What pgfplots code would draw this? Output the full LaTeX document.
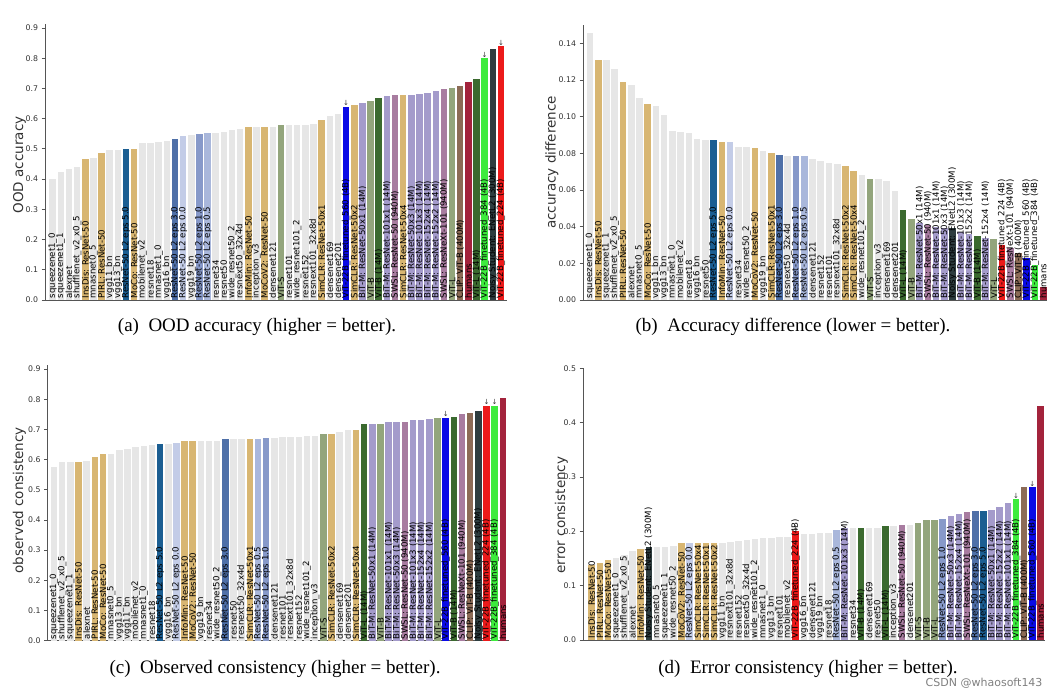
\documentclass[border=0pt]{standalone}
\usepackage{pgfplots}
\pgfplotsset{compat=1.18}
\usepackage{fontspec}
\setmainfont{DejaVu Sans}
\newfontfamily\capfont{Liberation Serif}

\definecolor{cg}{HTML}{E6E6E6}
\definecolor{ctan}{HTML}{D8B672}
\definecolor{ce5}{HTML}{1B5E92}
\definecolor{ce3}{HTML}{4F70A8}
\definecolor{ce1}{HTML}{8799C9}
\definecolor{ce05}{HTML}{A9B7DB}
\definecolor{ce0}{HTML}{C3CCE7}
\definecolor{cpur}{HTML}{A49BCB}
\definecolor{cmau}{HTML}{A87CA0}
\definecolor{cvit}{HTML}{93A57C}
\definecolor{cdg}{HTML}{3B6A2F}
\definecolor{cbr}{HTML}{8C6B56}
\definecolor{cdt}{HTML}{2E3D3F}
\definecolor{chum}{HTML}{A3233C}
\definecolor{cvb}{HTML}{0A0AE6}
\definecolor{cvg}{HTML}{3DEB3D}
\definecolor{cvr}{HTML}{EC1A1A}
\definecolor{axc}{HTML}{555555}
\definecolor{tkc}{HTML}{333333}

\pgfplotsset{
  bb/.style={ybar, bar width=0.8, bar shift=0pt, draw=none, fill=#1},
  labs/.style={draw=none, mark=none, point meta=explicit symbolic, nodes near coords,
    every node near coord/.append style={rotate=90, anchor=west, font=\fontsize{8.6}{8.6}\selectfont, text=black, inner sep=1.4pt}},
  arr/.style={draw=none, mark=none, point meta=explicit symbolic, nodes near coords,
    every node near coord/.append style={anchor=south, font=\fontsize{7}{7}\selectfont, text=tkc, inner sep=0.5pt}},
  panel/.style={scale only axis, anchor=south west,
    axis x line*=bottom, axis y line*=left,
    axis line style={draw=axc, line width=0.9pt},
    xtick=\empty, ytick style={draw=axc, line width=0.8pt},
    tick align=outside, major tick length=3.5pt,
    yticklabel style={font=\fontsize{7.8}{8}\selectfont, text=tkc},
    /pgf/number format/assume math mode=true,
    /pgf/number format/fixed, /pgf/number format/fixed zerofill,
    ymin=0, clip=false},
  ylab/.style n args={2}{every axis y label/.style={at={(axis description cs:#1,#2)}, rotate=90, anchor=center, font=\fontsize{13.5}{14}\selectfont, text=tkc}},
}

\begin{document}
\begin{tikzpicture}[x=1pt,y=1pt]
\useasboundingbox (0,0) rectangle (1054,695);

% ---------------- (a) OOD accuracy ----------------
\begin{axis}[panel, at={(45pt,395pt)}, width=462pt, height=275.6pt,
  xmin=-0.945, xmax=55.74, ymax=0.912,
  ytick={0,0.1,0.2,0.3,0.4,0.5,0.6,0.7,0.8,0.9}, /pgf/number format/precision=1,
  ylabel={OOD accuracy}, ylab={-0.055}{0.49}]
\addplot[bb=cg] coordinates {(0,0.400)};
\addplot[bb=cg] coordinates {(1,0.425)};
\addplot[bb=cg] coordinates {(2,0.433)};
\addplot[bb=cg] coordinates {(3,0.440)};
\addplot[bb=ctan] coordinates {(4,0.466)};
\addplot[bb=cg] coordinates {(5,0.470)};
\addplot[bb=ctan] coordinates {(6,0.488)};
\addplot[bb=cg] coordinates {(7,0.497)};
\addplot[bb=cg] coordinates {(8,0.498)};
\addplot[bb=ce5] coordinates {(9,0.500)};
\addplot[bb=ctan] coordinates {(10,0.500)};
\addplot[bb=cg] coordinates {(11,0.518)};
\addplot[bb=cg] coordinates {(12,0.520)};
\addplot[bb=cg] coordinates {(13,0.523)};
\addplot[bb=cg] coordinates {(14,0.527)};
\addplot[bb=ce3] coordinates {(15,0.532)};
\addplot[bb=ce0] coordinates {(16,0.543)};
\addplot[bb=cg] coordinates {(17,0.545)};
\addplot[bb=ce1] coordinates {(18,0.548)};
\addplot[bb=ce05] coordinates {(19,0.552)};
\addplot[bb=cg] coordinates {(20,0.554)};
\addplot[bb=cg] coordinates {(21,0.557)};
\addplot[bb=cg] coordinates {(22,0.563)};
\addplot[bb=cg] coordinates {(23,0.566)};
\addplot[bb=ctan] coordinates {(24,0.572)};
\addplot[bb=cg] coordinates {(25,0.572)};
\addplot[bb=ctan] coordinates {(26,0.572)};
\addplot[bb=cg] coordinates {(27,0.572)};
\addplot[bb=cvit] coordinates {(28,0.578)};
\addplot[bb=cg] coordinates {(29,0.578)};
\addplot[bb=cg] coordinates {(30,0.579)};
\addplot[bb=cg] coordinates {(31,0.580)};
\addplot[bb=cg] coordinates {(32,0.583)};
\addplot[bb=ctan] coordinates {(33,0.595)};
\addplot[bb=cg] coordinates {(34,0.608)};
\addplot[bb=cg] coordinates {(35,0.615)};
\addplot[bb=cvb] coordinates {(36,0.640)};
\addplot[bb=ctan] coordinates {(37,0.645)};
\addplot[bb=cpur] coordinates {(38,0.653)};
\addplot[bb=cvit] coordinates {(39,0.657)};
\addplot[bb=cdg] coordinates {(40,0.670)};
\addplot[bb=cpur] coordinates {(41,0.674)};
\addplot[bb=cmau] coordinates {(42,0.677)};
\addplot[bb=ctan] coordinates {(43,0.677)};
\addplot[bb=cpur] coordinates {(44,0.680)};
\addplot[bb=cpur] coordinates {(45,0.682)};
\addplot[bb=cpur] coordinates {(46,0.686)};
\addplot[bb=cpur] coordinates {(47,0.693)};
\addplot[bb=cmau] coordinates {(48,0.697)};
\addplot[bb=cvit] coordinates {(49,0.703)};
\addplot[bb=cbr] coordinates {(50,0.708)};
\addplot[bb=chum] coordinates {(51,0.722)};
\addplot[bb=cdg] coordinates {(52,0.731)};
\addplot[bb=cvg] coordinates {(53,0.800)};
\addplot[bb=cdt] coordinates {(54,0.830)};
\addplot[bb=cvr] coordinates {(55,0.840)};
\addplot[labs] coordinates {
(0,0) [squeezenet1\_0] (1,0) [squeezenet1\_1] (2,0) [alexnet] (3,0) [shufflenet\_v2\_x0\_5]
(4,0) [InsDis: ResNet-50] (5,0) [mnasnet0\_5] (6,0) [PIRL: ResNet-50] (7,0) [vgg11\_bn]
(8,0) [vgg13\_bn] (9,0) [ResNet-50 L2 eps 5.0] (10,0) [MoCo: ResNet-50] (11,0) [mobilenet\_v2]
(12,0) [resnet18] (13,0) [mnasnet1\_0] (14,0) [vgg16\_bn] (15,0) [ResNet-50 L2 eps 3.0]
(16,0) [ResNet-50 L2 eps 0.0] (17,0) [vgg19\_bn] (18,0) [ResNet-50 L2 eps 1.0] (19,0) [ResNet-50 L2 eps 0.5]
(20,0) [resnet34] (21,0) [resnet50] (22,0) [wide\_resnet50\_2] (23,0) [resnext50\_32x4d]
(24,0) [InfoMin: ResNet-50] (25,0) [inception\_v3] (26,0) [MoCoV2: ResNet-50] (27,0) [densenet121]
(28,0) [ViT-S] (29,0) [resnet101] (30,0) [wide\_resnet101\_2] (31,0) [resnet152]
(32,0) [resnext101\_32x8d] (33,0) [SimCLR: ResNet-50x1] (34,0) [densenet169] (35,0) [densenet201]
(36,0) [ViT-22B\_finetuned\_560 (4B)] (37,0) [SimCLR: ResNet-50x2] (38,0) [BiT-M: ResNet-50x1 (14M)] (39,0) [ViT-B]
(40,0) [ViT-B (14M)] (41,0) [BiT-M: ResNet-101x1 (14M)] (42,0) [SWSL: ResNet-50 (940M)] (43,0) [SimCLR: ResNet-50x4]
(44,0) [BiT-M: ResNet-50x3 (14M)] (45,0) [BiT-M: ResNet-101x3 (14M)] (46,0) [BiT-M: ResNet-152x4 (14M)] (47,0) [BiT-M: ResNet-152x2 (14M)]
(48,0) [SWSL: ResNeXt-101 (940M)] (49,0) [ViT-L] (50,0) [CLIP: ViT-B (400M)] (51,0) [humans]
(52,0) [ViT-L (14M)] (53,0) [ViT-22B\_finetuned\_384 (4B)] (54,0) [Noisy Student: ENetL2 (300M)] (55,0) [ViT-22B\_finetuned\_224 (4B)]
};
\addplot[arr] coordinates {(36,0.640) [↓] (53,0.800) [↓] (55,0.840) [↓]};
\end{axis}

% ---------------- (b) accuracy difference ----------------
\begin{axis}[panel, at={(583pt,395pt)}, width=464pt, height=275pt,
  xmin=-0.85, xmax=55.46, ymax=0.15,
  ytick={0,0.02,0.04,0.06,0.08,0.10,0.12,0.14}, /pgf/number format/precision=2,
  ylabel={accuracy difference}, ylab={-0.067}{0.5}]
\addplot[bb=cg] coordinates {(0,0.1455)};
\addplot[bb=ctan] coordinates {(1,0.131)};
\addplot[bb=cg] coordinates {(2,0.131)};
\addplot[bb=cg] coordinates {(3,0.126)};
\addplot[bb=ctan] coordinates {(4,0.119)};
\addplot[bb=cg] coordinates {(5,0.117)};
\addplot[bb=cg] coordinates {(6,0.110)};
\addplot[bb=ctan] coordinates {(7,0.107)};
\addplot[bb=cg] coordinates {(8,0.106)};
\addplot[bb=cg] coordinates {(9,0.101)};
\addplot[bb=cg] coordinates {(10,0.092)};
\addplot[bb=cg] coordinates {(11,0.0915)};
\addplot[bb=cg] coordinates {(12,0.091)};
\addplot[bb=cg] coordinates {(13,0.088)};
\addplot[bb=cg] coordinates {(14,0.087)};
\addplot[bb=ce5] coordinates {(15,0.087)};
\addplot[bb=ctan] coordinates {(16,0.086)};
\addplot[bb=ce0] coordinates {(17,0.086)};
\addplot[bb=cg] coordinates {(18,0.0836)};
\addplot[bb=cg] coordinates {(19,0.0835)};
\addplot[bb=ctan] coordinates {(20,0.083)};
\addplot[bb=cg] coordinates {(21,0.081)};
\addplot[bb=ctan] coordinates {(22,0.080)};
\addplot[bb=ce3] coordinates {(23,0.079)};
\addplot[bb=cg] coordinates {(24,0.0787)};
\addplot[bb=ce1] coordinates {(25,0.0787)};
\addplot[bb=ce05] coordinates {(26,0.0785)};
\addplot[bb=cg] coordinates {(27,0.077)};
\addplot[bb=cg] coordinates {(28,0.0758)};
\addplot[bb=cg] coordinates {(29,0.0745)};
\addplot[bb=cg] coordinates {(30,0.074)};
\addplot[bb=ctan] coordinates {(31,0.073)};
\addplot[bb=ctan] coordinates {(32,0.0705)};
\addplot[bb=cg] coordinates {(33,0.068)};
\addplot[bb=cvit] coordinates {(34,0.0662)};
\addplot[bb=cg] coordinates {(35,0.066)};
\addplot[bb=cg] coordinates {(36,0.065)};
\addplot[bb=cg] coordinates {(37,0.0596)};
\addplot[bb=cdg] coordinates {(38,0.049)};
\addplot[bb=cvit] coordinates {(39,0.0442)};
\addplot[bb=cpur] coordinates {(40,0.042)};
\addplot[bb=cmau] coordinates {(41,0.041)};
\addplot[bb=cpur] coordinates {(42,0.040)};
\addplot[bb=cpur] coordinates {(43,0.0395)};
\addplot[bb=cdt] coordinates {(44,0.0395)};
\addplot[bb=cpur] coordinates {(45,0.037)};
\addplot[bb=cpur] coordinates {(46,0.036)};
\addplot[bb=cdg] coordinates {(47,0.0349)};
\addplot[bb=cpur] coordinates {(48,0.034)};
\addplot[bb=cvit] coordinates {(49,0.033)};
\addplot[bb=cvr] coordinates {(50,0.030)};
\addplot[bb=cmau] coordinates {(51,0.0284)};
\addplot[bb=cbr] coordinates {(52,0.0255)};
\addplot[bb=cvb] coordinates {(53,0.0228)};
\addplot[bb=cvg] coordinates {(54,0.019)};
\addplot[bb=chum] coordinates {(55,0.0072)};
\addplot[labs] coordinates {
(0,0) [squeezenet1\_0] (1,0) [InsDis: ResNet-50] (2,0) [squeezenet1\_1] (3,0) [shufflenet\_v2\_x0\_5]
(4,0) [PIRL: ResNet-50] (5,0) [alexnet] (6,0) [mnasnet0\_5] (7,0) [MoCo: ResNet-50]
(8,0) [vgg11\_bn] (9,0) [vgg13\_bn] (10,0) [mnasnet1\_0] (11,0) [mobilenet\_v2]
(12,0) [resnet18] (13,0) [vgg16\_bn] (14,0) [resnet50] (15,0) [ResNet-50 L2 eps 5.0]
(16,0) [InfoMin: ResNet-50] (17,0) [ResNet-50 L2 eps 0.0] (18,0) [resnet34] (19,0) [wide\_resnet50\_2]
(20,0) [MoCoV2: ResNet-50] (21,0) [vgg19\_bn] (22,0) [SimCLR: ResNet-50x1] (23,0) [ResNet-50 L2 eps 3.0]
(24,0) [resnext50\_32x4d] (25,0) [ResNet-50 L2 eps 1.0] (26,0) [ResNet-50 L2 eps 0.5] (27,0) [densenet121]
(28,0) [resnet152] (29,0) [resnet101] (30,0) [resnext101\_32x8d] (31,0) [SimCLR: ResNet-50x2]
(32,0) [SimCLR: ResNet-50x4] (33,0) [wide\_resnet101\_2] (34,0) [ViT-S] (35,0) [inception\_v3]
(36,0) [densenet169] (37,0) [densenet201] (38,0) [ViT-L (14M)] (39,0) [ViT-B]
(40,0) [BiT-M: ResNet-50x1 (14M)] (41,0) [SWSL: ResNet-50 (940M)] (42,0) [BiT-M: ResNet-101x1 (14M)] (43,0) [BiT-M: ResNet-50x3 (14M)]
(44,0) [Noisy Student: ENetL2 (300M)] (45,0) [BiT-M: ResNet-101x3 (14M)] (46,0) [BiT-M: ResNet-152x2 (14M)] (47,0) [ViT-B (14M)]
(48,0) [BiT-M: ResNet-152x4 (14M)] (49,0) [ViT-L] (50,0) [ViT-22B\_finetuned\_224 (4B)] (51,0) [SWSL: ResNeXt-101 (940M)]
(52,0) [CLIP: ViT-B (400M)] (53,0) [ViT-22B\_finetuned\_560 (4B)] (54,0) [ViT-22B\_finetuned\_384 (4B)] (55,0) [humans]
};
\end{axis}

% ---------------- (c) observed consistency ----------------
\begin{axis}[panel, at={(47.5pt,54.3pt)}, width=461.5pt, height=275.3pt,
  xmin=-0.8, xmax=55.76, ymax=0.912,
  ytick={0,0.1,0.2,0.3,0.4,0.5,0.6,0.7,0.8,0.9}, /pgf/number format/precision=1,
  ylabel={observed consistency}, ylab={-0.061}{0.51}]
\addplot[bb=cg] coordinates {(0,0.576)};
\addplot[bb=cg] coordinates {(1,0.593)};
\addplot[bb=cg] coordinates {(2,0.593)};
\addplot[bb=ctan] coordinates {(3,0.593)};
\addplot[bb=cg] coordinates {(4,0.596)};
\addplot[bb=ctan] coordinates {(5,0.609)};
\addplot[bb=ctan] coordinates {(6,0.617)};
\addplot[bb=cg] coordinates {(7,0.617)};
\addplot[bb=cg] coordinates {(8,0.631)};
\addplot[bb=cg] coordinates {(9,0.635)};
\addplot[bb=cg] coordinates {(10,0.642)};
\addplot[bb=cg] coordinates {(11,0.645)};
\addplot[bb=cg] coordinates {(12,0.648)};
\addplot[bb=ce5] coordinates {(13,0.650)};
\addplot[bb=cg] coordinates {(14,0.650)};
\addplot[bb=ce0] coordinates {(15,0.656)};
\addplot[bb=ctan] coordinates {(16,0.661)};
\addplot[bb=ctan] coordinates {(17,0.661)};
\addplot[bb=cg] coordinates {(18,0.662)};
\addplot[bb=cg] coordinates {(19,0.662)};
\addplot[bb=cg] coordinates {(20,0.663)};
\addplot[bb=ce3] coordinates {(21,0.667)};
\addplot[bb=cg] coordinates {(22,0.667)};
\addplot[bb=cg] coordinates {(23,0.667)};
\addplot[bb=ctan] coordinates {(24,0.669)};
\addplot[bb=ce05] coordinates {(25,0.669)};
\addplot[bb=ce1] coordinates {(26,0.670)};
\addplot[bb=cg] coordinates {(27,0.670)};
\addplot[bb=cg] coordinates {(28,0.674)};
\addplot[bb=cg] coordinates {(29,0.676)};
\addplot[bb=cg] coordinates {(30,0.676)};
\addplot[bb=cg] coordinates {(31,0.678)};
\addplot[bb=cg] coordinates {(32,0.678)};
\addplot[bb=cvit] coordinates {(33,0.686)};
\addplot[bb=ctan] coordinates {(34,0.686)};
\addplot[bb=cg] coordinates {(35,0.692)};
\addplot[bb=cg] coordinates {(36,0.697)};
\addplot[bb=ctan] coordinates {(37,0.699)};
\addplot[bb=cdg] coordinates {(38,0.718)};
\addplot[bb=cpur] coordinates {(39,0.718)};
\addplot[bb=cvit] coordinates {(40,0.718)};
\addplot[bb=cpur] coordinates {(41,0.724)};
\addplot[bb=cpur] coordinates {(42,0.726)};
\addplot[bb=cmau] coordinates {(43,0.726)};
\addplot[bb=cpur] coordinates {(44,0.732)};
\addplot[bb=cpur] coordinates {(45,0.732)};
\addplot[bb=cpur] coordinates {(46,0.734)};
\addplot[bb=cvit] coordinates {(47,0.737)};
\addplot[bb=cvb] coordinates {(48,0.739)};
\addplot[bb=cdg] coordinates {(49,0.742)};
\addplot[bb=cmau] coordinates {(50,0.750)};
\addplot[bb=cbr] coordinates {(51,0.755)};
\addplot[bb=cdt] coordinates {(52,0.761)};
\addplot[bb=cvr] coordinates {(53,0.779)};
\addplot[bb=cvg] coordinates {(54,0.779)};
\addplot[bb=chum] coordinates {(55,0.805)};
\addplot[labs] coordinates {
(0,0) [squeezenet1\_0] (1,0) [shufflenet\_v2\_x0\_5] (2,0) [squeezenet1\_1] (3,0) [InsDis: ResNet-50]
(4,0) [alexnet] (5,0) [PIRL: ResNet-50] (6,0) [MoCo: ResNet-50] (7,0) [mnasnet0\_5]
(8,0) [vgg13\_bn] (9,0) [vgg11\_bn] (10,0) [mobilenet\_v2] (11,0) [mnasnet1\_0]
(12,0) [resnet18] (13,0) [ResNet-50 L2 eps 5.0] (14,0) [vgg16\_bn] (15,0) [ResNet-50 L2 eps 0.0]
(16,0) [InfoMin: ResNet-50] (17,0) [MoCoV2: ResNet-50] (18,0) [vgg19\_bn] (19,0) [resnet34]
(20,0) [wide\_resnet50\_2] (21,0) [ResNet-50 L2 eps 3.0] (22,0) [resnet50] (23,0) [resnext50\_32x4d]
(24,0) [SimCLR: ResNet-50x1] (25,0) [ResNet-50 L2 eps 0.5] (26,0) [ResNet-50 L2 eps 1.0] (27,0) [densenet121]
(28,0) [resnet101] (29,0) [resnext101\_32x8d] (30,0) [resnet152] (31,0) [wide\_resnet101\_2]
(32,0) [inception\_v3] (33,0) [ViT-S] (34,0) [SimCLR: ResNet-50x2] (35,0) [densenet169]
(36,0) [densenet201] (37,0) [SimCLR: ResNet-50x4] (38,0) [ViT-L (14M)] (39,0) [BiT-M: ResNet-50x1 (14M)]
(40,0) [ViT-B] (41,0) [BiT-M: ResNet-101x1 (14M)] (42,0) [BiT-M: ResNet-50x3 (14M)] (43,0) [SWSL: ResNet-50 (940M)]
(44,0) [BiT-M: ResNet-101x3 (14M)] (45,0) [BiT-M: ResNet-152x4 (14M)] (46,0) [BiT-M: ResNet-152x2 (14M)] (47,0) [ViT-L]
(48,0) [ViT-22B\_finetuned\_560 (4B)] (49,0) [ViT-B (14M)] (50,0) [SWSL: ResNeXt-101 (940M)] (51,0) [CLIP: ViT-B (400M)]
(52,0) [Noisy Student: ENetL2 (300M)] (53,0) [ViT-22B\_finetuned\_224 (4B)] (54,0) [ViT-22B\_finetuned\_384 (4B)] (55,0) [humans]
};
\addplot[arr] coordinates {(48,0.739) [↓] (53,0.779) [↓] (54,0.779) [↓]};
\end{axis}

% ---------------- (d) error consistency ----------------
\begin{axis}[panel, at={(583pt,55pt)}, width=462pt, height=271.7pt,
  xmin=-1.07, xmax=55.55, ymax=0.5,
  ytick={0,0.1,0.2,0.3,0.4,0.5}, /pgf/number format/precision=1,
  ylabel={error consistency}, ylab={-0.047}{0.46}]
\addplot[bb=ctan] coordinates {(0,0.138)};
\addplot[bb=ctan] coordinates {(1,0.141)};
\addplot[bb=ctan] coordinates {(2,0.147)};
\addplot[bb=cg] coordinates {(3,0.150)};
\addplot[bb=cg] coordinates {(4,0.156)};
\addplot[bb=cg] coordinates {(5,0.163)};
\addplot[bb=ctan] coordinates {(6,0.167)};
\addplot[bb=cdt] coordinates {(7,0.171)};
\addplot[bb=cg] coordinates {(8,0.172)};
\addplot[bb=cg] coordinates {(9,0.172)};
\addplot[bb=cg] coordinates {(10,0.173)};
\addplot[bb=ctan] coordinates {(11,0.178)};
\addplot[bb=ce0] coordinates {(12,0.178)};
\addplot[bb=ctan] coordinates {(13,0.178)};
\addplot[bb=ctan] coordinates {(14,0.178)};
\addplot[bb=ctan] coordinates {(15,0.178)};
\addplot[bb=cg] coordinates {(16,0.179)};
\addplot[bb=cg] coordinates {(17,0.181)};
\addplot[bb=cg] coordinates {(18,0.183)};
\addplot[bb=cg] coordinates {(19,0.184)};
\addplot[bb=cg] coordinates {(20,0.186)};
\addplot[bb=cg] coordinates {(21,0.187)};
\addplot[bb=cg] coordinates {(22,0.188)};
\addplot[bb=cg] coordinates {(23,0.189)};
\addplot[bb=cg] coordinates {(24,0.190)};
\addplot[bb=cvr] coordinates {(25,0.200)};
\addplot[bb=cg] coordinates {(26,0.195)};
\addplot[bb=cg] coordinates {(27,0.195)};
\addplot[bb=cg] coordinates {(28,0.196)};
\addplot[bb=cg] coordinates {(29,0.196)};
\addplot[bb=ce05] coordinates {(30,0.2026)};
\addplot[bb=cpur] coordinates {(31,0.206)};
\addplot[bb=cg] coordinates {(32,0.206)};
\addplot[bb=cdg] coordinates {(33,0.206)};
\addplot[bb=cg] coordinates {(34,0.206)};
\addplot[bb=cg] coordinates {(35,0.206)};
\addplot[bb=cdg] coordinates {(36,0.209)};
\addplot[bb=cg] coordinates {(37,0.209)};
\addplot[bb=cmau] coordinates {(38,0.211)};
\addplot[bb=cg] coordinates {(39,0.212)};
\addplot[bb=cvit] coordinates {(40,0.216)};
\addplot[bb=cvit] coordinates {(41,0.221)};
\addplot[bb=cvit] coordinates {(42,0.221)};
\addplot[bb=ce1] coordinates {(43,0.222)};
\addplot[bb=cpur] coordinates {(44,0.228)};
\addplot[bb=cpur] coordinates {(45,0.232)};
\addplot[bb=cmau] coordinates {(46,0.235)};
\addplot[bb=ce3] coordinates {(47,0.238)};
\addplot[bb=ce5] coordinates {(48,0.238)};
\addplot[bb=cpur] coordinates {(49,0.239)};
\addplot[bb=cpur] coordinates {(50,0.244)};
\addplot[bb=cpur] coordinates {(51,0.252)};
\addplot[bb=cvg] coordinates {(52,0.259)};
\addplot[bb=cbr] coordinates {(53,0.281)};
\addplot[bb=cvb] coordinates {(54,0.282)};
\addplot[bb=chum] coordinates {(55,0.430)};
\addplot[labs] coordinates {
(0,0) [InsDis: ResNet-50] (1,0) [PIRL: ResNet-50] (2,0) [MoCo: ResNet-50] (3,0) [squeezenet1\_0]
(4,0) [shufflenet\_v2\_x0\_5] (5,0) [alexnet] (6,0) [InfoMin: ResNet-50] (7,0) [Noisy Student: ENetL2 (300M)]
(8,0) [mnasnet0\_5] (9,0) [squeezenet1\_1] (10,0) [wide\_resnet50\_2] (11,0) [MoCoV2: ResNet-50]
(12,0) [ResNet-50 L2 eps 0.0] (13,0) [SimCLR: ResNet-50x4] (14,0) [SimCLR: ResNet-50x1] (15,0) [SimCLR: ResNet-50x2]
(16,0) [vgg11\_bn] (17,0) [resnext101\_32x8d] (18,0) [resnet152] (19,0) [resnext50\_32x4d]
(20,0) [wide\_resnet101\_2] (21,0) [mnasnet1\_0] (22,0) [vgg13\_bn] (23,0) [resnet101]
(24,0) [mobilenet\_v2] (25,0) [ViT-22B\_finetuned\_224 (4B)] (26,0) [vgg16\_bn] (27,0) [densenet121]
(28,0) [vgg19\_bn] (29,0) [resnet18] (30,0) [ResNet-50 L2 eps 0.5] (31,0) [BiT-M: ResNet-101x3 (14M)]
(32,0) [resnet34] (33,0) [ViT-B (14M)] (34,0) [densenet169] (35,0) [resnet50]
(36,0) [ViT-L (14M)] (37,0) [inception\_v3] (38,0) [SWSL: ResNet-50 (940M)] (39,0) [densenet201]
(40,0) [ViT-S] (41,0) [ViT-B] (42,0) [ViT-L] (43,0) [ResNet-50 L2 eps 1.0]
(44,0) [BiT-M: ResNet-50x3 (14M)] (45,0) [BiT-M: ResNet-152x4 (14M)] (46,0) [SWSL: ResNeXt-101 (940M)] (47,0) [ResNet-50 L2 eps 3.0]
(48,0) [ResNet-50 L2 eps 5.0] (49,0) [BiT-M: ResNet-50x1 (14M)] (50,0) [BiT-M: ResNet-152x2 (14M)] (51,0) [BiT-M: ResNet-101x1 (14M)]
(52,0) [ViT-22B\_finetuned\_384 (4B)] (53,0) [CLIP: ViT-B (400M)] (54,0) [ViT-22B\_finetuned\_560 (4B)] (55,0) [humans]
};
\addplot[arr] coordinates {(25,0.200) [↓] (52,0.259) [↓] (54,0.282) [↓]};
\end{axis}

% captions
\node[font=\capfont\fontsize{19}{22}\selectfont, anchor=base] at (257,363) {(a)\enspace OOD accuracy (higher = better).};
\node[font=\capfont\fontsize{19}{22}\selectfont, anchor=base] at (793,363) {(b)\enspace Accuracy difference (lower = better).};
\node[font=\capfont\fontsize{19}{22}\selectfont, anchor=base] at (275,21) {(c)\enspace Observed consistency (higher = better).};
\node[font=\capfont\fontsize{19}{22}\selectfont, anchor=base] at (808,21) {(d)\enspace Error consistency (higher = better).};
\node[font=\fontsize{11}{12}\selectfont, text=gray, anchor=base east] at (1046,8) {CSDN @whaosoft143};
\end{tikzpicture}
\end{document}
